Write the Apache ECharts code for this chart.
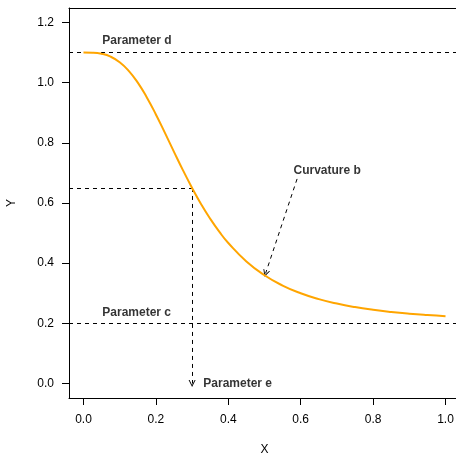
<!DOCTYPE html>
<html>
<head>
<meta charset="utf-8">
<script src="https://cdn.jsdelivr.net/npm/echarts@6/dist/echarts.min.js"></script>
<style>
  html, body { margin: 0; padding: 0; background: #fff; }
  #chart { width: 456px; height: 455px; }
</style>
</head>
<body>
<div id="chart"></div>
<script>
// curve
var curveX = [0, 0.025, 0.05, 0.075, 0.1, 0.125, 0.15, 0.175, 0.2, 0.225, 0.25, 0.275, 0.3,
  0.325, 0.35, 0.375, 0.4, 0.45, 0.5, 0.55, 0.6, 0.65, 0.7, 0.75, 0.8, 0.85, 0.9, 0.95, 1.0]
var curveY = [1.1, 1.0995, 1.0959, 1.0862, 1.0679, 1.0393, 1.0, 0.9509, 0.8943, 0.833, 0.7701, 0.7084, 0.65,
  0.5962, 0.5478, 0.5048, 0.467, 0.4057, 0.3599, 0.3257, 0.3, 0.2806, 0.2657, 0.2541, 0.2451, 0.2379, 0.2321, 0.2275, 0.2237]

var xTicks = [0, 0.2, 0.4, 0.6, 0.8, 1.0]
var yTicks = [0, 0.2, 0.4, 0.6, 0.8, 1.0, 1.2]

var paramC = 0.2
var paramD = 1.1
var paramE = 0.3
var halfY = 0.65
var curvFrom = [0.59, 0.68]
var curvTo = [0.503, 0.366]

var labelNames = ['Parameter d', 'Parameter c', 'Parameter e', 'Curvature b']
var labelX = [0.052, 0.052, 0.331, 0.58]
var labelY = [1.14, 0.236, 0.0, 0.708]

var chart = echarts.init(document.getElementById('chart'))

var dash = { color: '#000', width: 1, type: [4, 4], opacity: 1 }
var openArrow = 'path://M5,0 L10,10 L8.6,10 L5,3 L1.4,10 L0,10 Z'

chart.setOption({
  animation: false,
  textStyle: { fontFamily: 'Liberation Sans, Arial, sans-serif' },
  grid: {
    left: 69,
    top: 8,
    width: 391,
    height: 390,
    outerBoundsMode: 'none',
    containLabel: false
  },
  xAxis: [{
    type: 'value',
    min: -0.04,
    max: 1.04,
    name: 'X',
    nameLocation: 'middle',
    nameGap: 46,
    nameTextStyle: { fontSize: 12, color: '#000' },
    splitLine: { show: false },
    axisLine: { show: true, onZero: false, lineStyle: { color: '#000' } },
    axisTick: { show: true, length: 7, customValues: xTicks, lineStyle: { color: '#000' } },
    axisLabel: {
      customValues: xTicks,
      margin: 16,
      fontSize: 12,
      color: '#000',
      formatter: function (v) { return v.toFixed(1) }
    }
  }, {
    // top edge of the box
    type: 'value',
    position: 'top',
    min: -0.04,
    max: 1.04,
    splitLine: { show: false },
    axisLine: { show: true, onZero: false, lineStyle: { color: '#000' } },
    axisTick: { show: false },
    axisLabel: { show: false }
  }],
  yAxis: {
    type: 'value',
    min: -0.048,
    max: 1.248,
    name: 'Y',
    nameLocation: 'middle',
    nameGap: 51,
    nameTextStyle: { fontSize: 12, color: '#000' },
    splitLine: { show: false },
    axisLine: { show: true, onZero: false, lineStyle: { color: '#000' } },
    axisTick: { show: true, length: 7, customValues: yTicks, lineStyle: { color: '#000' } },
    axisLabel: {
      customValues: yTicks,
      margin: 15,
      fontSize: 12,
      color: '#000',
      formatter: function (v) { return v.toFixed(1) }
    }
  },
  series: [
    {
      type: 'line',
      data: curveX.map(function (x, i) { return [x, curveY[i]] }),
      smooth: true,
      showSymbol: false,
      lineStyle: { color: '#FFA500', width: 2 },
      z: 5,
      markLine: {
        silent: true,
        symbol: 'none',
        label: { show: false },
        lineStyle: dash,
        data: [{ yAxis: paramD }, { yAxis: paramC }]
      }
    },
    {
      type: 'lines',
      coordinateSystem: 'cartesian2d',
      symbol: 'none',
      lineStyle: dash,
      data: [{ coords: [[-0.04, halfY], [paramE, halfY]] }]
    },
    {
      type: 'lines',
      coordinateSystem: 'cartesian2d',
      symbol: ['none', openArrow],
      symbolSize: 7,
      itemStyle: { color: '#000' },
      lineStyle: dash,
      data: [
        { coords: [[paramE, halfY], [paramE, 0]] },
        { coords: [curvFrom, curvTo] }
      ]
    },
    {
      type: 'scatter',
      symbolSize: 0,
      data: labelNames.map(function (n, i) { return { name: n, value: [labelX[i], labelY[i]] } }),
      label: {
        show: true,
        position: 'right',
        distance: 0,
        formatter: '{b}',
        fontSize: 12,
        fontWeight: 'bold',
        color: '#000'
      }
    }
  ]
})
</script>
</body>
</html>
